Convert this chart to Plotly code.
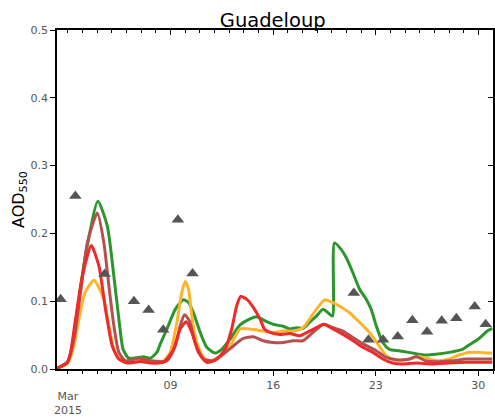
import plotly.graph_objects as go
import pandas as pd

BASE = pd.Timestamp("2015-03-01")

# Observations (AOD at 550 nm), day offsets from 1 Mar 2015 00:00
obs_days = [0.5, 1.5, 3.5, 5.5, 6.5, 7.5, 8.5, 9.5, 20.5, 21.5, 22.5, 23.5,
            24.5, 25.5, 26.5, 27.5, 28.75, 29.5]
obs_aod = [0.103, 0.255, 0.140, 0.100, 0.087, 0.058, 0.220, 0.141, 0.112, 0.043,
           0.043, 0.048, 0.072, 0.055, 0.071, 0.075, 0.092, 0.066]

green_days = [0.25, 0.96, 1.18, 2.15, 3.04, 3.68, 4.13, 4.47, 4.76, 5.14, 5.82, 6.16,
              6.62, 7.07, 7.30, 7.75, 8.32, 8.88, 9.22, 9.56, 10.02, 10.47, 11.04,
              11.49, 12.06, 12.74, 13.42, 13.87, 14.32, 15.0, 15.68, 16.13, 16.59,
              17.04, 17.49, 17.95, 18.40, 18.74, 19.05, 19.18, 19.65, 19.99, 20.44,
              20.89, 21.35, 21.69, 22.03, 22.48, 22.93, 23.61, 24.51, 25.42, 26.10,
              27.01, 27.91, 28.48, 29.05, 29.61, 29.95]
green_aod = [0.001, 0.010, 0.022, 0.162, 0.2475, 0.211, 0.137, 0.074, 0.029, 0.016,
             0.017, 0.018, 0.016, 0.025, 0.037, 0.059, 0.088, 0.102, 0.098, 0.083,
             0.054, 0.032, 0.0235, 0.029, 0.044, 0.065, 0.074, 0.077, 0.0725, 0.066,
             0.063, 0.059, 0.061, 0.060, 0.069, 0.078, 0.088, 0.083, 0.078, 0.186,
             0.176, 0.164, 0.142, 0.118, 0.103, 0.088, 0.064, 0.039, 0.029, 0.027,
             0.0235, 0.0206, 0.0216, 0.0245, 0.029, 0.037, 0.045, 0.056, 0.060]

orange_days = [0.25, 0.96, 1.41, 1.75, 2.17, 2.77, 3.45, 3.79, 4.13, 4.47, 5.26, 5.94,
               6.62, 7.52, 7.98, 8.43, 8.77, 9.0, 9.22, 9.45, 9.79, 10.24, 10.70,
               11.38, 12.06, 12.74, 13.42, 14.32, 15.0, 15.68, 16.36, 17.04, 17.49,
               17.95, 18.51, 18.97, 19.65, 20.21, 20.89, 21.57, 22.14, 22.71, 23.27,
               23.83, 24.51, 24.97, 25.65, 26.33, 27.01, 27.69, 28.37, 29.05, 29.95]
orange_aod = [0.001, 0.008, 0.034, 0.074, 0.113, 0.131, 0.103, 0.064, 0.029, 0.015,
              0.010, 0.012, 0.011, 0.012, 0.025, 0.069, 0.113, 0.129, 0.118, 0.078,
              0.039, 0.017, 0.012, 0.0196, 0.034, 0.059, 0.059, 0.056, 0.054, 0.056,
              0.056, 0.061, 0.074, 0.088, 0.102, 0.099, 0.091, 0.083, 0.069, 0.054,
              0.037, 0.0196, 0.0137, 0.013, 0.0157, 0.0186, 0.0147, 0.012, 0.0147,
              0.0206, 0.0245, 0.0245, 0.0235]

brown_days = [0.25, 0.96, 1.41, 1.86, 2.32, 3.0, 3.45, 3.79, 4.13, 4.47, 4.92, 5.82,
              6.62, 7.75, 8.32, 8.66, 8.95, 9.29, 9.68, 10.24, 10.92, 11.60, 12.28,
              12.96, 13.64, 14.32, 15.0, 15.68, 16.36, 17.04, 17.72, 18.44, 19.08,
              19.76, 20.44, 21.12, 22.03, 22.71, 23.39, 24.29, 24.75, 25.42, 26.33,
              27.23, 28.14, 29.95]
brown_aod = [0.001, 0.010, 0.044, 0.113, 0.186, 0.230, 0.186, 0.1225, 0.064, 0.0245,
             0.012, 0.0157, 0.012, 0.012, 0.034, 0.064, 0.080, 0.071, 0.039, 0.0147,
             0.012, 0.022, 0.034, 0.045, 0.0475, 0.0417, 0.039, 0.039, 0.0417, 0.0417,
             0.054, 0.066, 0.061, 0.056, 0.0466, 0.037, 0.027, 0.017, 0.0137, 0.0147,
             0.0186, 0.012, 0.0108, 0.012, 0.0147, 0.0147]

red_days = [0.25, 0.96, 1.18, 1.52, 1.98, 2.59, 3.11, 3.56, 4.02, 4.47, 5.04, 5.94,
            6.62, 7.52, 8.20, 8.66, 9.07, 9.45, 9.90, 10.47, 11.15, 11.72, 12.17,
            12.51, 12.78, 13.19, 13.64, 14.10, 14.40, 14.78, 15.46, 16.13, 16.81,
            17.49, 17.95, 18.44, 19.08, 19.76, 20.44, 21.12, 21.80, 22.48, 23.15,
            23.83, 24.75, 25.87, 27.01, 28.14, 29.95]
red_aod = [0.001, 0.010, 0.025, 0.074, 0.137, 0.182, 0.152, 0.088, 0.034, 0.0147,
           0.0088, 0.011, 0.0088, 0.010, 0.029, 0.059, 0.0696, 0.054, 0.0245, 0.0098,
           0.0147, 0.029, 0.059, 0.093, 0.107, 0.103, 0.091, 0.074, 0.059, 0.054,
           0.051, 0.0525, 0.049, 0.056, 0.061, 0.066, 0.059, 0.051, 0.042, 0.032,
           0.0245, 0.0147, 0.0088, 0.0074, 0.0088, 0.0074, 0.0088, 0.0098, 0.0098]

major_tick_days = [8, 15, 22, 29]
major_tick_text = ["09", "16", "23", "30"]
month_label = "Mar<br>2015"
month_label_day = 1
title_text = "Guadeloup"
y_title = "AOD<sub>550</sub>"


def to_time(days):
    return [BASE + pd.Timedelta(days=d) for d in days]


fig = go.Figure()

series = [
    (green_days, green_aod, "#2c962c"),
    (orange_days, orange_aod, "#fdb32b"),
    (brown_days, brown_aod, "#b45050"),
    (red_days, red_aod, "#ee2a2a"),
]
for days, vals, col in series:
    fig.add_trace(go.Scatter(
        x=to_time(days), y=vals, mode="lines",
        line=dict(color=col, width=3, shape="spline", smoothing=0.6),
        showlegend=False, hoverinfo="skip"))

fig.add_trace(go.Scatter(
    x=to_time(obs_days), y=obs_aod, mode="markers",
    marker=dict(symbol="triangle-up", size=11, color="#555555"),
    showlegend=False, hoverinfo="skip"))

x_range = [BASE + pd.Timedelta(hours=6), BASE + pd.Timedelta(days=30)]
tickfont = dict(family="DejaVu Sans", size=11, color="#555555")

fig.update_layout(
    width=495, height=419,
    margin=dict(l=57, r=2, t=30, b=50),
    paper_bgcolor="white", plot_bgcolor="white",
    font=dict(family="DejaVu Sans"),
    title=dict(text=title_text, x=0.551, xanchor="center", y=1 - 20 / 419,
               yanchor="middle", font=dict(size=19.5, color="black")),
    xaxis=dict(
        range=x_range, showgrid=False, zeroline=False,
        showline=True, linecolor="black", linewidth=1.5,
        tickvals=to_time(major_tick_days), ticktext=major_tick_text,
        ticks="outside", ticklen=5, tickcolor="black", tickfont=tickfont,
        minor=dict(dtick=86400000, tick0=BASE, ticks="outside", ticklen=3,
                   tickcolor="black", showgrid=False),
    ),
    xaxis2=dict(
        overlaying="x", side="top", range=x_range, showgrid=False,
        zeroline=False, showline=True, linecolor="black", linewidth=1.5,
        tickvals=to_time(major_tick_days), ticks="inside", ticklen=5,
        tickcolor="black", showticklabels=False,
        minor=dict(dtick=86400000, tick0=BASE, ticks="inside", ticklen=3,
                   tickcolor="black", showgrid=False),
    ),
    yaxis=dict(
        range=[0, 0.5], dtick=0.1, tickformat=".1f", showgrid=False,
        zeroline=False, showline=True, linecolor="black", linewidth=1.5,
        ticks="outside", ticklen=5, tickcolor="black", tickfont=tickfont,
        title=dict(text=y_title, font=dict(size=16, color="black"), standoff=2),
    ),
    yaxis2=dict(
        overlaying="y", side="right", range=[0, 0.5], dtick=0.1,
        showgrid=False, zeroline=False, showline=True, linecolor="black",
        linewidth=1.5, ticks="inside", ticklen=5, tickcolor="black",
        showticklabels=False,
    ),
)

# invisible trace to activate the mirrored frame axes
fig.add_trace(go.Scatter(x=[x_range[0]], y=[0], xaxis="x2", yaxis="y2",
                         mode="markers", marker=dict(opacity=0),
                         showlegend=False, hoverinfo="skip"))

fig.add_annotation(x=BASE + pd.Timedelta(days=month_label_day), xref="x",
                   y=(369.5 - 404) / 339.5, yref="paper", text=month_label,
                   showarrow=False, yanchor="middle",
                   font=dict(family="DejaVu Sans", size=11, color="#555555"))

fig.write_html("out.html")
